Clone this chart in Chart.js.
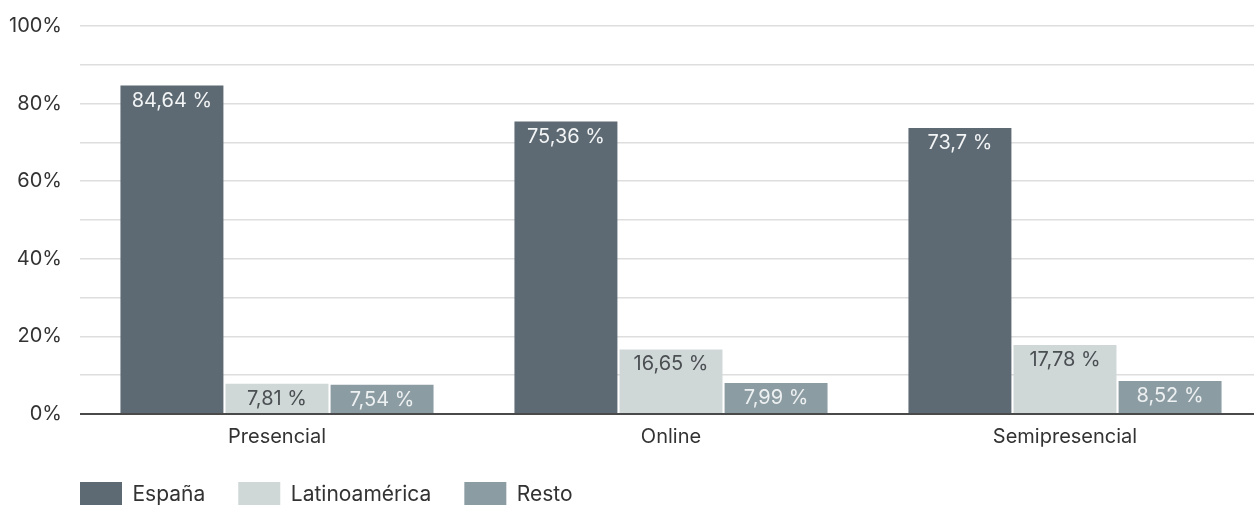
<!DOCTYPE html>
<html>
<head>
<meta charset="utf-8">
<script src="https://cdn.jsdelivr.net/npm/chart.js@4.4.1/dist/chart.umd.min.js"></script>
<style>
  html, body { margin: 0; padding: 0; background: #ffffff; overflow: hidden; }
  #wrap { position: absolute; left: 0; top: 0; width: 1262px; height: 518px; }
</style>
</head>
<body>
<div id="wrap"><canvas id="c"></canvas></div>
<script>
const categories = ['Presencial', 'Online', 'Semipresencial'];
const seriesNames = ['España', 'Latinoamérica', 'Resto'];
const espana = [84.64, 75.36, 73.7];
const latinoamerica = [7.81, 16.65, 17.78];
const resto = [7.54, 7.99, 8.52];
const yTicks = [0, 20, 40, 60, 80, 100];

const barColors = ['#5d6a73', '#d0d7d7', '#8c9ca3'];
const valueTextColors = ['#f2f4f5', '#4a4f52', '#eef1f2'];
const FONT = 'Inter, "Noto Sans", sans-serif';

function fmt(v) { return String(v).replace('.', ',') + ' %'; }

const valueLabels = {
  id: 'valueLabels',
  afterDatasetsDraw(chart) {
    const ctx = chart.ctx;
    chart.data.datasets.forEach((ds, i) => {
      const meta = chart.getDatasetMeta(i);
      meta.data.forEach((bar, j) => {
        ctx.save();
        ctx.font = '400 20px ' + FONT;
        ctx.fillStyle = valueTextColors[i];
        ctx.textAlign = 'center';
        ctx.textBaseline = 'middle';
        ctx.fillText(fmt(ds.data[j]), bar.x, bar.y + 15);
        ctx.restore();
      });
    });
  }
};

const legendShift = {
  id: 'legendShift',
  beforeDraw(chart) {
    if (chart.legend) {
      const w = chart.legend.width;
      chart.legend.left = 47;
      chart.legend.right = 47 + w;
    }
  }
};

new Chart(document.getElementById('c'), {
  type: 'bar',
  data: {
    labels: categories,
    datasets: [
      { label: seriesNames[0], data: espana, backgroundColor: barColors[0] },
      { label: seriesNames[1], data: latinoamerica, backgroundColor: barColors[1] },
      { label: seriesNames[2], data: resto, backgroundColor: barColors[2] }
    ]
  },
  options: {
    responsive: true,
    maintainAspectRatio: false,
    animation: false,
    layout: { padding: { left: 0, top: 26, right: 0, bottom: 0 } },
    datasets: { bar: { categoryPercentage: 0.8, barPercentage: 0.98, borderWidth: 0 } },
    scales: {
      x: {
        afterFit(s) { s.height = 35; },
        grid: { display: false, drawTicks: false, tickLength: 0 },
        border: { display: false },
        ticks: { color: '#333333', font: { family: FONT, size: 20 }, padding: 11 }
      },
      y: {
        min: 0,
        max: 100,
        afterFit(s) { s.width = 80; s.paddingTop = 0; s.paddingBottom = 0; },
        border: { display: false },
        grid: {
          drawTicks: false,
          tickLength: 0,
          color: ctx => (ctx.tick && ctx.tick.value === 0) ? '#4a4a4a' : '#dedede',
          lineWidth: ctx => (ctx.tick && ctx.tick.value === 0) ? 2 : 1.5
        },
        ticks: {
          stepSize: 10,
          padding: 18,
          color: '#333333',
          font: { family: FONT, size: 20 },
          callback: v => yTicks.includes(v) ? v + '%' : ''
        }
      }
    },
    plugins: {
      tooltip: { enabled: false },
      legend: {
        position: 'bottom',
        align: 'start',
        labels: {
          boxWidth: 42,
          boxHeight: 26,
          padding: 33,
          color: '#333333',
          font: { family: FONT, size: 21 }
        }
      }
    }
  },
  plugins: [valueLabels, legendShift]
});
</script>
</body>
</html>
